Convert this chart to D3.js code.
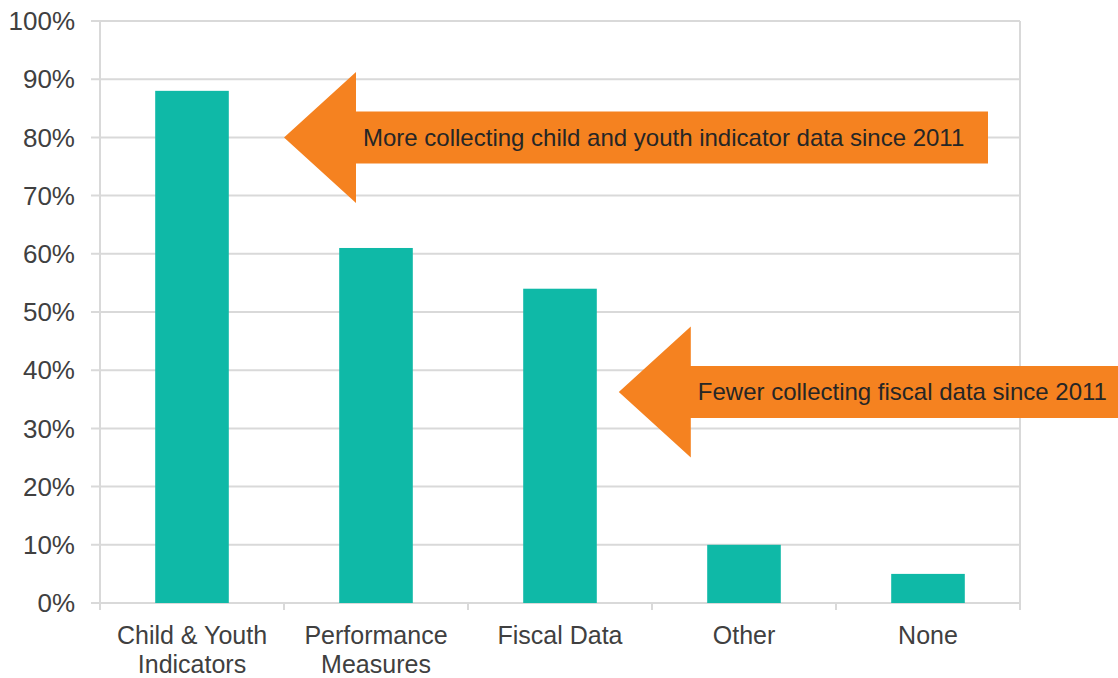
<!DOCTYPE html>
<html>
<head>
<meta charset="utf-8">
<script src="https://cdn.jsdelivr.net/npm/d3@7"></script>
<style>
  body { margin: 0; background: #fff; }
  svg { display: block; font-family: "Liberation Sans", Arial, sans-serif; }
</style>
</head>
<body>
<div id="chart"></div>
<script>
const categories = ["Child & Youth|Indicators", "Performance|Measures", "Fiscal Data", "Other", "None"];
const values = [0.88, 0.61, 0.54, 0.10, 0.05];
const yTicks = [0, 0.1, 0.2, 0.3, 0.4, 0.5, 0.6, 0.7, 0.8, 0.9, 1.0];
// callouts: band they start in, value where the tip sits, label
const callouts = [
  {cat: "Performance|Measures", at: 0.80, text: "More collecting child and youth indicator data since 2011"},
  {cat: "Fiscal Data", at: 0.3625, text: "Fewer collecting fiscal data since 2011"}
];

const width = 1118, height = 678;
const margin = {top: 21, right: 98, bottom: 75, left: 100};
const innerW = width - margin.left - margin.right;
const innerH = height - margin.top - margin.bottom;

const svg = d3.select('#chart').append('svg')
  .attr('width', width)
  .attr('height', height);

const g = svg.append('g').attr('transform', `translate(${margin.left},${margin.top})`);

const x = d3.scaleBand().domain(categories).range([0, innerW]).paddingInner(0.6).paddingOuter(0.3);
const xBand = d3.scaleBand().domain(categories).range([0, innerW]);
const y = d3.scaleLinear().domain([0, 1]).range([innerH, 0]);

const grey = '#d9d9d9';

// gridlines
g.append('g').selectAll('line').data(yTicks).enter().append('line')
  .attr('x1', -9).attr('x2', innerW)
  .attr('y1', d => y(d)).attr('y2', d => y(d))
  .attr('stroke', grey).attr('stroke-width', 2);

// left axis line and right border
g.append('line').attr('x1', 0).attr('x2', 0).attr('y1', 0).attr('y2', innerH + 7)
  .attr('stroke', grey).attr('stroke-width', 2);
g.append('line').attr('x1', innerW).attr('x2', innerW).attr('y1', 0).attr('y2', innerH + 7)
  .attr('stroke', grey).attr('stroke-width', 2);

// x tick marks at band boundaries
g.append('g').selectAll('line').data(categories.slice(1)).enter().append('line')
  .attr('x1', d => xBand(d)).attr('x2', d => xBand(d))
  .attr('y1', innerH).attr('y2', innerH + 7)
  .attr('stroke', grey).attr('stroke-width', 2);

// y labels
g.append('g').selectAll('text').data(yTicks).enter().append('text')
  .attr('x', -25).attr('y', d => y(d))
  .attr('dy', '0.35em')
  .attr('text-anchor', 'end')
  .attr('fill', '#404040')
  .attr('font-size', 26)
  .text(d3.format('.0%'));

// bars
g.append('g').selectAll('rect').data(values).enter().append('rect')
  .attr('x', (d, i) => x(categories[i]))
  .attr('width', x.bandwidth())
  .attr('y', d => y(d))
  .attr('height', d => innerH - y(d))
  .attr('fill', '#0fb9a7');

// x labels (two lines where needed)
const xl = g.append('g').selectAll('text').data(categories).enter().append('text')
  .attr('x', d => xBand(d) + xBand.bandwidth() / 2)
  .attr('y', innerH + 41)
  .attr('text-anchor', 'middle')
  .attr('fill', '#404040')
  .attr('font-size', 25);
xl.each(function(d) {
  const parts = d.split('|');
  d3.select(this).selectAll('tspan').data(parts).enter().append('tspan')
    .attr('x', xBand(d) + xBand.bandwidth() / 2)
    .attr('dy', (p, i) => i === 0 ? 0 : 29)
    .text(p => p);
});

// callout arrows: first starts at its band edge, second just right of the fiscal bar
const headW = 72, headH = 131, bodyH = 52;
callouts.forEach((c, i) => {
  const tipX = i === 0 ? xBand(c.cat) : x(c.cat) + x.bandwidth() + 22;
  const tipY = y(c.at);
  const endX = i === 0 ? innerW - 32 : width - margin.left;
  const pts = [
    [tipX, tipY],
    [tipX + headW, tipY - headH / 2],
    [tipX + headW, tipY - bodyH / 2],
    [endX, tipY - bodyH / 2],
    [endX, tipY + bodyH / 2],
    [tipX + headW, tipY + bodyH / 2],
    [tipX + headW, tipY + headH / 2]
  ];
  g.append('polygon')
    .attr('points', pts.map(p => p.join(',')).join(' '))
    .attr('fill', '#f58220');
  g.append('text')
    .attr('x', tipX + headW + 7)
    .attr('y', tipY)
    .attr('dy', '0.35em')
    .attr('fill', '#262626')
    .attr('font-size', 24)
    .text(c.text);
});
</script>
</body>
</html>
